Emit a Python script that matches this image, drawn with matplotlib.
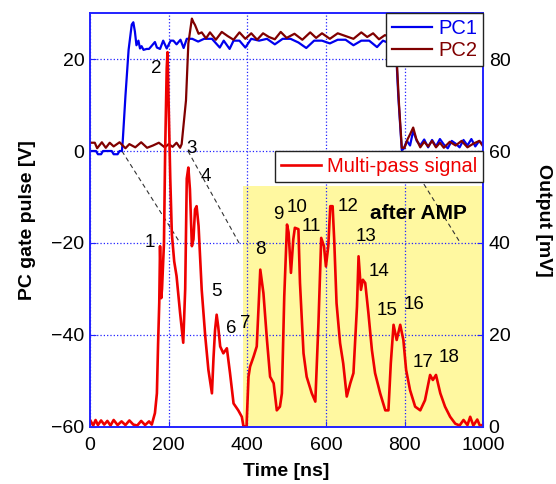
import matplotlib
matplotlib.use('Agg')
import matplotlib.pyplot as plt
from matplotlib.lines import Line2D

plt.rcParams['font.family'] = ['Liberation Sans', 'DejaVu Sans']

# PC1 gate pulse [V]
t_pc1 = [0, 15, 20, 28, 33, 55, 60, 70, 75, 81, 83, 90, 98, 106, 110, 114, 118, 123, 127, 131, 136, 144, 150, 158, 165, 170, 178, 186, 195, 205, 212, 220, 230, 238, 246, 260, 275, 290, 310, 330, 340, 355, 365, 380, 395, 410, 430, 450, 470, 490, 510, 530, 550, 570, 590, 610, 630, 650, 670, 690, 710, 730, 745, 760, 772, 778, 784, 793, 797, 806, 814, 822, 831, 840, 850, 860, 870, 880, 890, 900, 910, 920, 930, 940, 950, 960, 970, 980, 990, 1000]
v_pc1 = [0, 0, -0.7, -0.7, 0, 0, -0.7, -0.7, 0, 0, 2, 12, 22, 27.5, 28, 26, 23, 24, 22.3, 22.8, 22, 22.2, 22.2, 23, 23.7, 22.5, 22.2, 24, 22.3, 24, 24, 23.2, 24.2, 22.4, 24.4, 24.4, 23.8, 24.4, 24.4, 22.5, 24, 22.2, 24, 24, 22.5, 24.4, 24, 24.4, 23.2, 24.4, 24.4, 23.6, 22.4, 24, 24, 23.4, 24.2, 24.2, 23, 24, 24, 22.6, 24, 23.5, 23, 22.5, 12, 0.2, 0.4, 2.2, 1.2, 4.4, 2.2, 1.2, 2.5, 0.8, 2.4, 1.0, 2.6, 1.4, 0.6, 2.2, 1.6, 0.8, 2.4, 1.2, 2.6, 1.0, 2.2, 1.4]

# PC2 gate pulse [V]
t_pc2 = [0, 12, 18, 30, 40, 50, 60, 75, 90, 100, 115, 130, 145, 160, 175, 190, 200, 210, 220, 229, 233, 244, 250, 259, 263, 267, 276, 284, 295, 305, 320, 335, 350, 365, 380, 395, 410, 425, 440, 455, 470, 485, 500, 520, 540, 560, 575, 590, 610, 630, 650, 670, 690, 705, 720, 735, 750, 765, 775, 780, 786, 793, 800, 808, 815, 822, 830, 840, 850, 860, 870, 880, 890, 900, 915, 930, 945, 960, 975, 990, 1000]
v_pc2 = [1.8, 1.8, 0.6, 1.9, 0.7, 1.8, 1.0, 1.9, 0.6, 1.5, 0.8, 1.9, 0.7, 1.2, 1.8, 0.8, 1.5, 0.9, 1.8, 0.7, 1.5, 11, 23.4, 28.8, 28, 27.4, 25.5, 25.8, 24.5, 25.8, 24.2, 25.9, 25, 24.2, 25.8, 24.4, 25.6, 24.2, 25.6, 24.8, 24.3, 25.9, 24.6, 25.5, 24.2, 25.8, 24.6, 25.6, 24.4, 25.6, 25, 24.4, 25.8, 24.8, 25.6, 24.3, 25.2, 24.8, 24.0, 20, 10, 0.7, 0.7, 2.6, 3.8, 5.1, 2.6, 0.8, 2.0, 1.0, 2.2, 0.8, 1.8, 0.7, 2.0, 1.2, 2.2, 0.8, 1.6, 2.2, 1.0]

# multi-pass signal [mV]
t_sig = [0, 8, 14, 20, 28, 36, 44, 52, 60, 70, 80, 90, 100, 110, 120, 130, 140, 150, 157, 165, 170, 173, 176, 178, 181, 183, 185, 188, 191, 195, 197, 200, 204, 208, 214, 220, 229, 237, 242, 246, 250, 254, 259, 263, 267, 271, 276, 284, 293, 301, 310, 314, 318, 322, 326, 331, 339, 348, 356, 365, 377, 386, 390, 398, 403, 407, 416, 424, 433, 441, 450, 458, 467, 475, 483, 488, 494, 501, 505, 511, 517, 521, 530, 534, 543, 551, 564, 573, 581, 588, 595, 600, 606, 611, 617, 621, 627, 636, 644, 653, 662, 670, 679, 683, 689, 694, 700, 708, 717, 725, 738, 751, 759, 765, 772, 780, 789, 797, 804, 814, 827, 840, 852, 865, 872, 880, 891, 903, 916, 929, 940, 950, 960, 967, 975, 985, 992, 1000]
v_sig = [1.5, 0.3, 1.5, 0.4, 1.4, 0.5, 1.3, 0.3, 1.5, 0.4, 1.2, 0.4, 1.4, 0.5, 0.3, 1.3, 0.4, 1.2, 0.5, 3.0, 7.3, 18, 27, 39.3, 28, 30, 34, 40, 60, 78, 81.5, 70, 54, 42, 36, 32.8, 24.8, 18.3, 30, 54, 56.4, 51.7, 39.3, 40.8, 47.3, 48, 43.7, 29.8, 19.7, 12.4, 7.3, 15, 21.1, 24.4, 21.8, 17.5, 16, 17.1, 11.7, 5.1, 3.6, 2.2, 0.2, 0, 10.9, 13.1, 15.3, 17.5, 34.2, 29.1, 18.9, 10.9, 9.5, 3.6, 4.4, 7.3, 28.4, 44, 42.3, 33.5, 40.8, 43.3, 43, 31.3, 16, 10.9, 7.3, 5.5, 22.6, 41.1, 39.3, 34.9, 39.3, 48, 48, 40.8, 26.9, 18.2, 13.8, 6.6, 9.5, 11.7, 26.2, 37.1, 29.8, 32, 31.3, 24.8, 16.7, 11.7, 7.3, 3.6, 3.6, 13.8, 22.2, 18.9, 22.2, 18.9, 12.4, 8, 4.4, 3.6, 5.8, 11.3, 10.2, 11.3, 7.3, 4.4, 2.2, 0.7, 0.3, 1.5, 0.4, 2.2, 0.3, 1.6, 0.2, 0.5]

# pass numbers (time [ns], PC axis value [V])
pass_labels = ['1', '2', '3', '4', '5', '6', '7', '8', '9', '10', '11', '12', '13', '14', '15', '16', '17', '18']
pass_t = [153, 168, 259, 295, 322, 360, 396, 432, 479, 526, 564, 657, 702, 736, 756, 824, 846, 912]
pass_v = [-19.8, 17.9, 0.6, -5.5, -30.6, -38.7, -37.6, -21.5, -13.9, -12.3, -16.4, -12.0, -18.6, -26.1, -34.6, -33.4, -46.0, -44.9]

# dashed guide lines (start, end)
guides_t = [(81, 229), (249, 379), (797, 942)]
guides_v = [(0, -20), (0, -20), (0, -20)]

amp_start = 389
amp_top = -7.7

c_pc1 = '#0000ee'
c_pc2 = '#800000'
c_sig = '#ee0000'
c_axis = '#2222ff'

fig = plt.figure(figsize=(5.56, 4.84), dpi=100)
ax = fig.add_axes([0.162, 0.118, 0.707, 0.855])
ax2 = ax.twinx()

ax.fill_between([amp_start, 1000], -60, amp_top, color='#fff8a0', zorder=0, linewidth=0)
ax.grid(True, color=c_axis, linestyle=':', linewidth=0.9, zorder=1)
ax.set_axisbelow(True)

for (t0, t1), (v0, v1) in zip(guides_t, guides_v):
    ax.plot([t0, t1], [v0, v1], color='#333333', linestyle='--', linewidth=0.8, dashes=(4, 3), zorder=2)

ax.plot(t_pc1, v_pc1, color=c_pc1, linewidth=1.6, zorder=3)
ax.plot(t_pc2, v_pc2, color=c_pc2, linewidth=1.6, zorder=4)
ax2.plot(t_sig, v_sig, color=c_sig, linewidth=1.9)

for lab, t, v in zip(pass_labels, pass_t, pass_v):
    ax.text(t, v, lab, fontsize=13.5, ha='center', va='center', zorder=5)
ax.text(835, -13.5, 'after AMP', fontsize=15, fontweight='bold', ha='center', va='center', zorder=5)

ax.set_xlim(0, 1000)
ax.set_ylim(-60, 30)
ax2.set_ylim(0, 90)
ax.set_xticks([0, 200, 400, 600, 800, 1000])
ax.set_yticks([-60, -40, -20, 0, 20])
ax2.set_yticks([0, 20, 40, 60, 80])

for a in (ax, ax2):
    for sp in a.spines.values():
        sp.set_color(c_axis)
        sp.set_linewidth(1.2)
    a.tick_params(labelsize=14, direction='in', length=4, color=c_axis, pad=4)
ax.tick_params(axis='x', pad=7)

ax.set_xlabel('Time [ns]', fontsize=14, fontweight='bold', labelpad=7)
ax.set_ylabel('PC gate pulse [V]', fontsize=14, fontweight='bold', labelpad=11)
ax2.set_ylabel('Output [mV]', fontsize=14, fontweight='bold', rotation=270, labelpad=30)

h1 = [Line2D([], [], color=c_pc1, linewidth=1.6), Line2D([], [], color=c_pc2, linewidth=1.6)]
leg1 = ax2.legend(h1, ['PC1', 'PC2'], loc='upper right', bbox_to_anchor=(1, 1), borderaxespad=0,
                  fancybox=False, edgecolor='#222222', fontsize=14.5, handlelength=2.0,
                  handletextpad=0.3, borderpad=0.3, labelspacing=0.15, framealpha=1)
leg1.get_frame().set_linewidth(1.0)
for txt, col in zip(leg1.get_texts(), [c_pc1, c_pc2]):
    txt.set_color(col)
ax2.add_artist(leg1)

h2 = [Line2D([], [], color=c_sig, linewidth=1.9)]
leg2 = ax2.legend(h2, ['Multi-pass signal'], loc='upper right', bbox_to_anchor=(1, 0.667), borderaxespad=0,
                  fancybox=False, edgecolor='#222222', fontsize=14.5, handlelength=2.0,
                  handletextpad=0.3, borderpad=0.3, framealpha=1)
leg2.get_frame().set_linewidth(1.0)
leg2.get_texts()[0].set_color(c_sig)

fig.savefig('out.png', dpi=100)
